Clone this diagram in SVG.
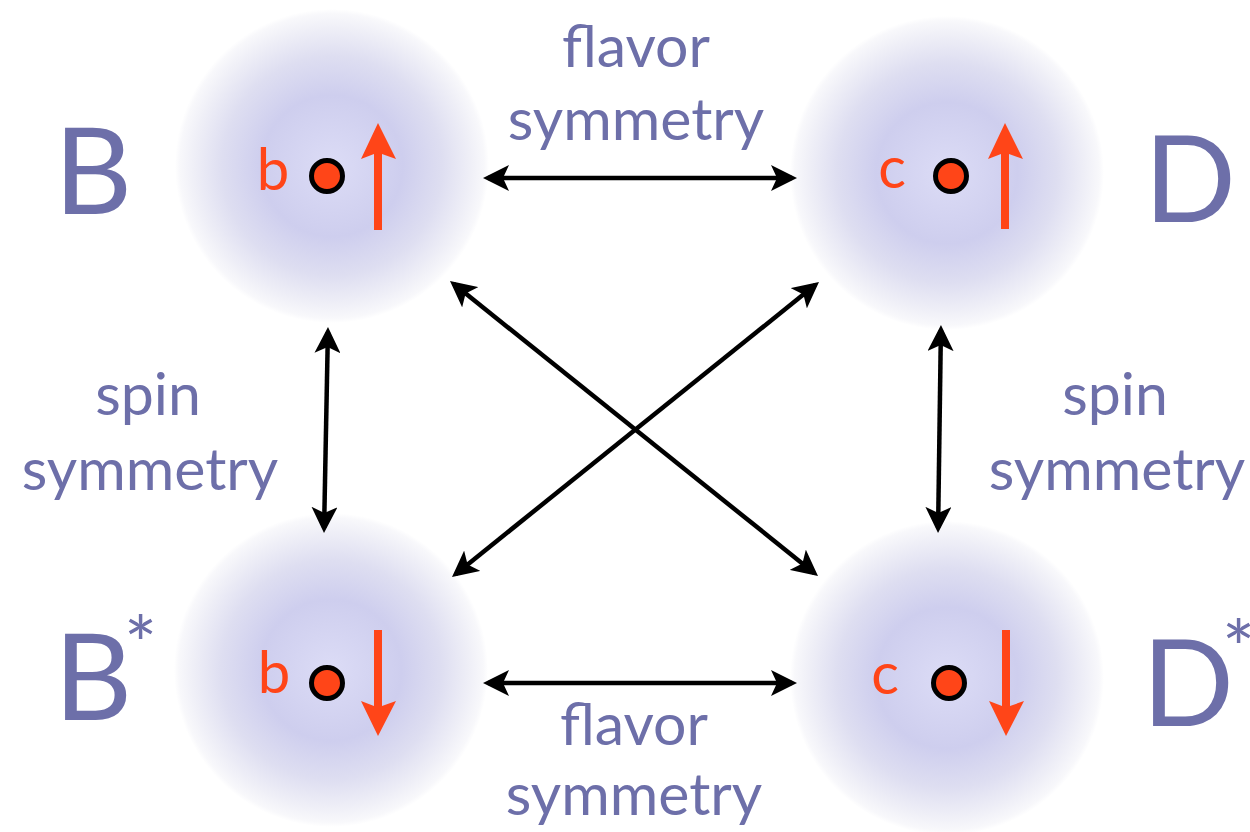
<svg xmlns="http://www.w3.org/2000/svg" width="1250" height="832" viewBox="0 0 1250 832">
<style>
.lbl{font-family:Lato,"Open Sans","DejaVu Sans",sans-serif;fill:#6D6FA9;font-size:59px;text-anchor:middle}
.big{font-family:Lato,"Open Sans","DejaVu Sans",sans-serif;fill:#6D6FA9;font-size:121px}
.ast{font-family:Lato,"Open Sans","DejaVu Sans",sans-serif;fill:#6D6FA9;font-size:78px}
.q{font-family:Lato,"Open Sans","DejaVu Sans",sans-serif;fill:#FF4518;font-size:58px;text-anchor:middle}
.dot{fill:#FF4518;stroke:#000;stroke-width:5}
.spin{fill:#FF4518}
.con{stroke:#000;stroke-width:4.5;fill:none;marker-start:url(#ah);marker-end:url(#ah)}
</style>
<defs>
<radialGradient id="glow">
<stop offset="0" stop-color="#DCDCF6"/>
<stop offset="0.45" stop-color="#CECEEE"/>
<stop offset="0.7" stop-color="#DEDEF1"/>
<stop offset="0.88" stop-color="#EFEFF7"/>
<stop offset="0.97" stop-color="#F8F8FB"/>
<stop offset="1" stop-color="#FFFFFF"/>
</radialGradient>
<marker id="ah" viewBox="0 0 26 26" refX="21" refY="13" markerWidth="26" markerHeight="26" markerUnits="userSpaceOnUse" orient="auto-start-reverse">
<path d="M0,0 L26,13 L0,26 L6,13 z" fill="#000"/>
</marker>
</defs>
<rect width="1250" height="832" fill="#fff"/>

<g id="node-B">
<circle cx="332" cy="166" r="157" fill="url(#glow)"/>
<text class="q" x="273" y="190">b</text>
<circle class="dot" cx="327" cy="176" r="15.5"/>
<path class="spin" d="M374,230 L374,154 L361,159 L378,123 L396,159 L382,154 L382,230 z"/>
<text class="big" x="54" y="214">B</text>
</g>

<g id="node-D">
<circle cx="947" cy="173" r="157" fill="url(#glow)"/>
<text class="q" x="892" y="188">c</text>
<circle class="dot" cx="951" cy="176" r="15.5"/>
<path class="spin" d="M1001,229 L1001,154 L988,159 L1005,123 L1023,159 L1009,154 L1009,229 z"/>
<text class="big" x="1144" y="222">D</text>
</g>

<g id="node-Bstar">
<circle cx="331" cy="670" r="157" fill="url(#glow)"/>
<text class="q" x="274" y="693">b</text>
<circle class="dot" cx="327" cy="683" r="15.5"/>
<path class="spin" d="M374,630 L374,706 L361,701 L378,736 L396,701 L382,706 L382,630 z"/>
<text class="big" x="54" y="720">B</text>
<text class="ast" x="124" y="673">*</text>
</g>

<g id="node-Dstar">
<circle cx="947" cy="678" r="157" fill="url(#glow)"/>
<text class="q" x="885" y="694">c</text>
<circle class="dot" cx="949" cy="683" r="15.5"/>
<path class="spin" d="M1002,630 L1002,706 L989,701 L1006,736 L1024,701 L1010,706 L1010,630 z"/>
<text class="big" x="1142" y="726">D</text>
<text class="ast" x="1222" y="677">*</text>
</g>

<g id="connectors">
<line class="con" x1="488" y1="178" x2="792" y2="178"/>
<line class="con" x1="488" y1="683" x2="792" y2="683"/>
<line class="con" x1="327.9" y1="332" x2="324.1" y2="528"/>
<line class="con" x1="940.9" y1="330" x2="938.1" y2="528"/>
<line class="con" x1="453.9" y1="284.1" x2="814.1" y2="572.9"/>
<line class="con" x1="815.1" y1="285.1" x2="455.9" y2="573.9"/>
</g>

<g id="labels">
<text class="lbl" x="636" y="67">flavor</text>
<text class="lbl" x="636" y="140">symmetry</text>
<text class="lbl" x="148" y="415">spin</text>
<text class="lbl" x="150" y="490">symmetry</text>
<text class="lbl" x="1115" y="415">spin</text>
<text class="lbl" x="1117" y="490">symmetry</text>
<text class="lbl" x="634" y="745">flavor</text>
<text class="lbl" x="634" y="815">symmetry</text>
</g>
</svg>
